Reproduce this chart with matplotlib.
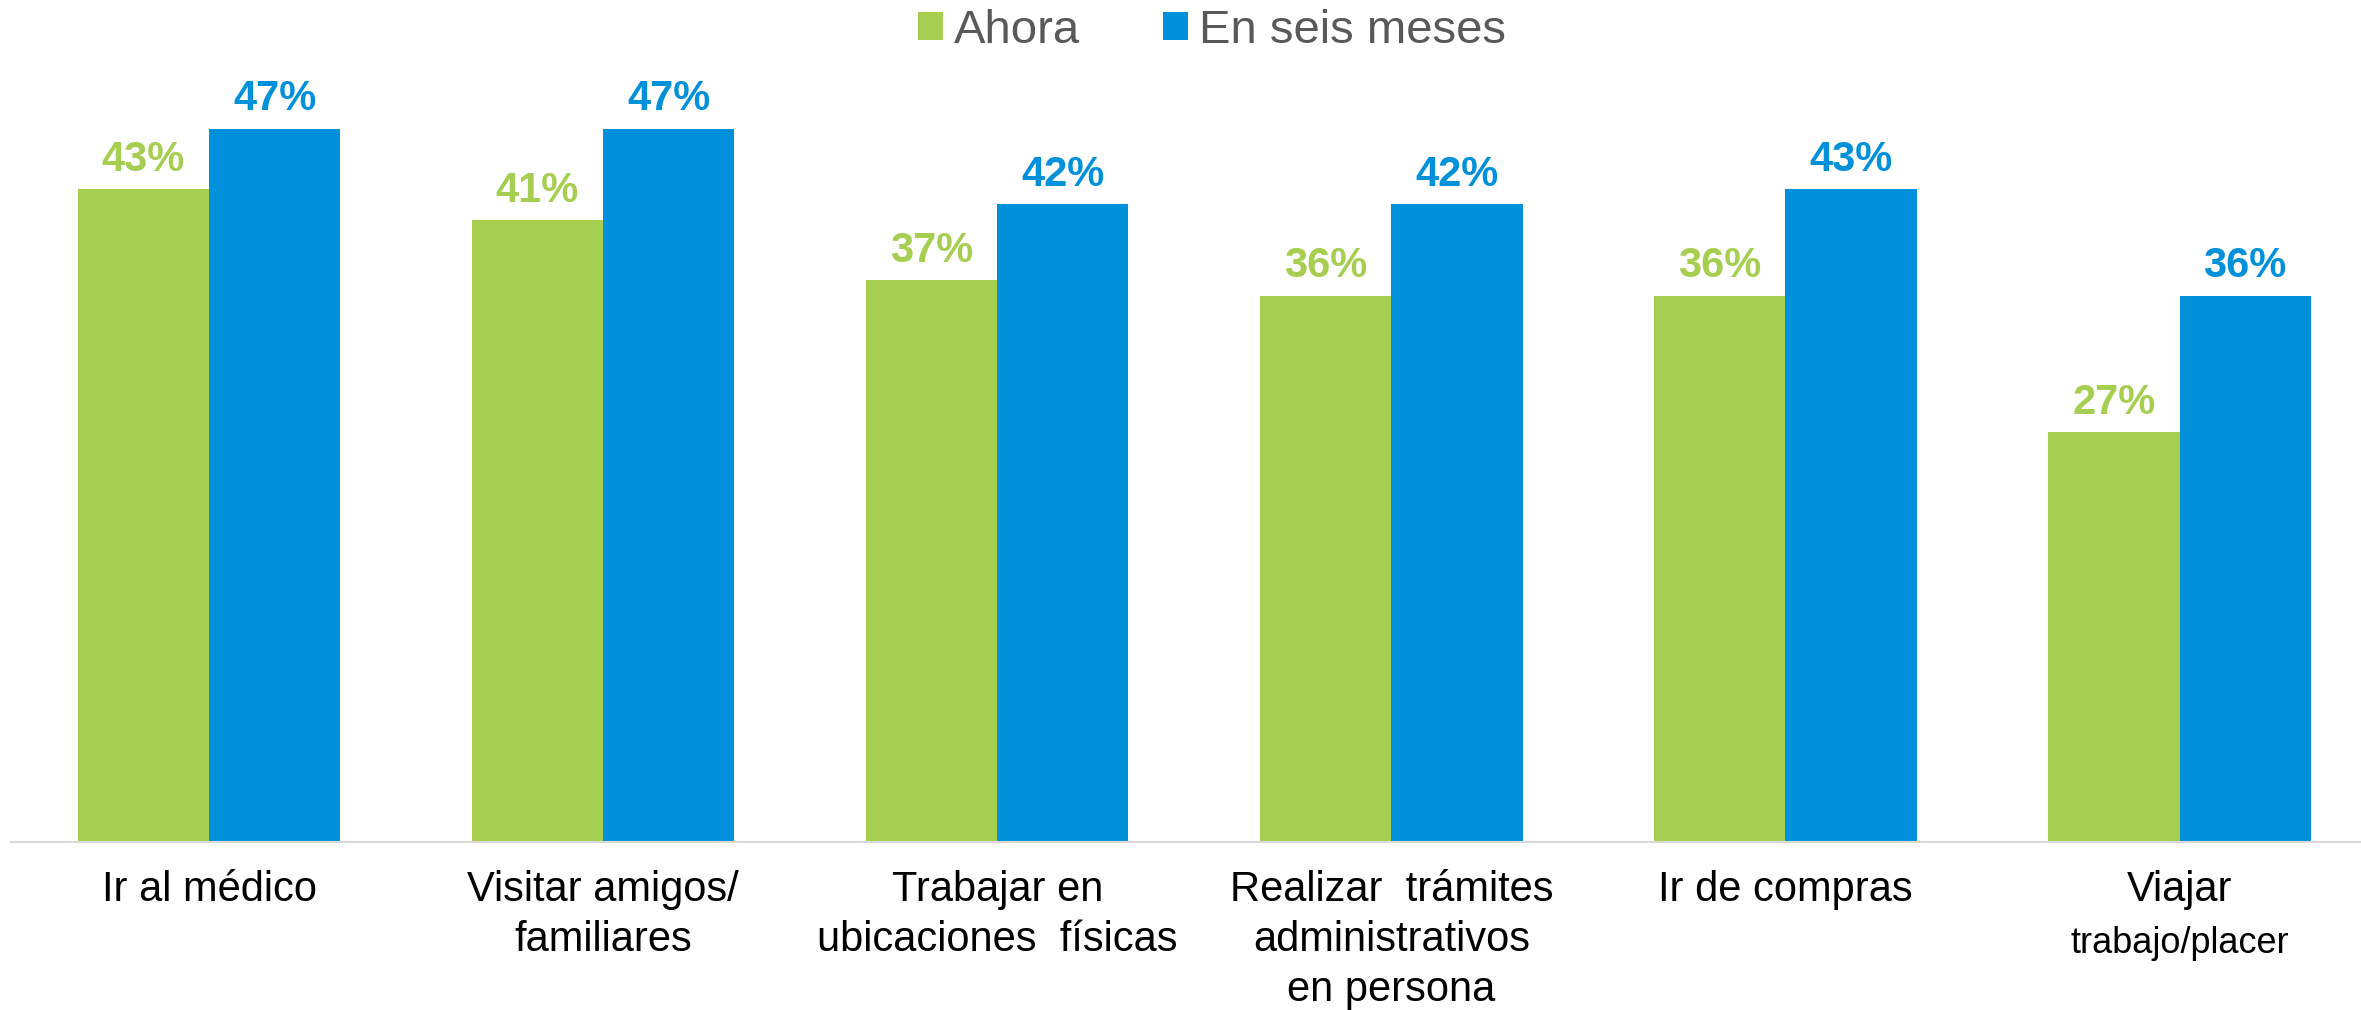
import numpy as np
import matplotlib.pyplot as plt
from matplotlib.patches import Patch

plt.rcParams['font.family'] = ['Liberation Sans', 'DejaVu Sans']

# data
categories = ['Ir al médico', 'Visitar amigos/\nfamiliares',
              'Trabajar en\nubicaciones  físicas',
              'Realizar  trámites\nadministrativos\nen persona',
              'Ir de compras', 'Viajar']
sublabels = ['', '', '', '', '', 'trabajo/placer']
series = ['Ahora', 'En seis meses']
ahora = [43, 41, 37, 36, 36, 27]
seis_meses = [47, 47, 42, 42, 43, 36]
colors = ('#a6ce50', '#0091da')

W, H = 2361, 1010
fig = plt.figure(figsize=(W / 100, H / 100), dpi=100)

# axes placed in pixel terms: baseline at y=842, first group centre at x=209
x0_px, base_px, step_px = 209, 842, 394.1
left_units, right_units = 0.502, 0.502
ax_left = x0_px - left_units * step_px
ax_width = (5 + left_units + right_units) * step_px
ax_height = 50 * 15.18
ax = fig.add_axes([ax_left / W, (H - base_px) / H, ax_width / W, ax_height / H])

idx = np.arange(len(categories))
width = 0.333
b1 = ax.bar(idx - width / 2, ahora, width, color=colors[0])
b2 = ax.bar(idx + width / 2, seis_meses, width, color=colors[1])

for bars, vals, c in ((b1, ahora, colors[0]), (b2, seis_meses, colors[1])):
    for rect, v in zip(bars, vals):
        ax.annotate('%d%%' % v, (rect.get_x() + rect.get_width() / 2, v),
                    xytext=(0, 13), textcoords='offset points',
                    ha='center', va='baseline', fontsize=30,
                    fontweight='bold', color=c)

ax.set_xlim(-left_units, 5 + right_units)
ax.set_ylim(0, 50)
for s in ('top', 'right', 'left'):
    ax.spines[s].set_visible(False)
ax.spines['bottom'].set_color('#d9d9d9')
ax.spines['bottom'].set_linewidth(1.5)
ax.set_xticks([])
ax.set_yticks([])

# category labels, one line at a time
for i, (lab, sub) in enumerate(zip(categories, sublabels)):
    lines = lab.split('\n')
    for j, line in enumerate(lines):
        ax.annotate(line, (i, 0), xycoords=('data', 'axes fraction'),
                    xytext=(0, -42.5 - 36 * j), textcoords='offset points',
                    ha='center', va='baseline', fontsize=30,
                    color='black', annotation_clip=False)
    if sub:
        ax.annotate(sub, (i, 0), xycoords=('data', 'axes fraction'),
                    xytext=(0, -80), textcoords='offset points',
                    ha='center', va='baseline', fontsize=26,
                    color='black', annotation_clip=False)

handles = [Patch(facecolor=c, edgecolor='none') for c in colors]
leg = fig.legend(handles, series, loc='center',
                 bbox_to_anchor=(1212 / W, 1 - 31 / H), ncol=2,
                 frameon=False, fontsize=34, handlelength=0.53,
                 handleheight=0.53, handletextpad=0.25,
                 columnspacing=1.74, borderaxespad=0, borderpad=0)
for t in leg.get_texts():
    t.set_color('#595959')

fig.savefig('out.png', dpi=100)
